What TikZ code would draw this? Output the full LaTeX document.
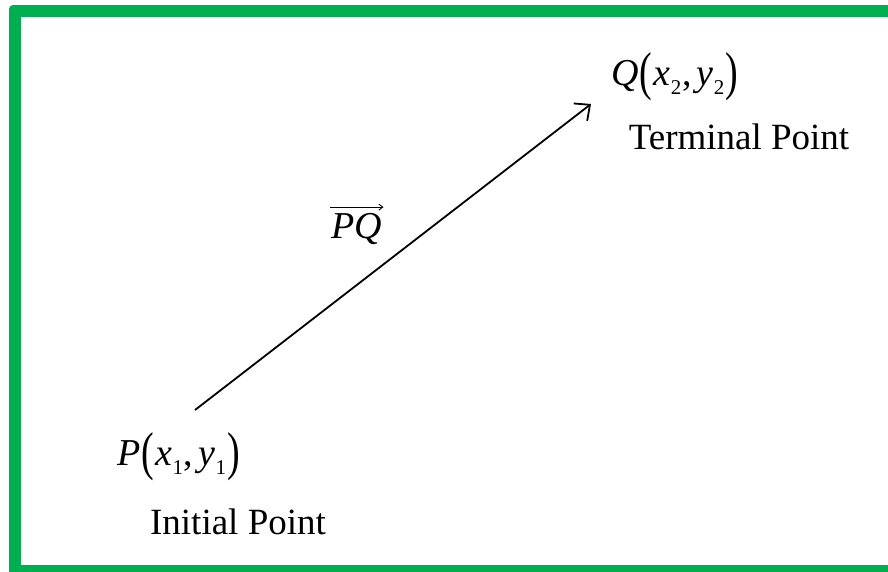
\documentclass[tikz,border=0pt]{standalone}
\usepackage{fontspec}
\setmainfont{Liberation Serif}
\usepackage{graphicx}
\usetikzlibrary{arrows.meta}
\definecolor{frameg}{RGB}{0,176,80}
\newcommand\bigpar[1]{\raisebox{-0.12em}{\scalebox{1}[1.4]{#1}}}
\newcommand\subn[1]{\raisebox{-0.25em}{\fontsize{21}{21}\selectfont #1}}
\newcommand\ptlabel[3]{\textit{#1}\kern0.02em\bigpar{(}\kern0.02em\textit{x}\kern0.02em\subn{#2}\kern0.02em,\kern0.12em\textit{y}\kern0.02em\subn{#3}\kern0.04em\bigpar{)}}
\tikzset{
  lbl/.style={inner sep=0pt, font=\fontsize{37}{40}\selectfont},
  mlbl/.style={inner sep=0pt, font=\fontsize{38}{42}\selectfont},
  vec/.style={line width=1.8pt, -{Straight Barb[length=12pt,width=22pt,line width=1.8pt]}},
  overarr/.style={line width=1pt, -{Straight Barb[length=4pt,width=6pt,line width=0.9pt]}}
}
\begin{document}
\begin{tikzpicture}[x=1pt,y=-1pt]
\useasboundingbox (0,0) rectangle (888,571);
\begin{scope}
\clip (0,0) rectangle (888,571);
\fill[frameg, rounded corners=4pt] (9,5) rectangle (920,600);
\fill[white] (21,17) rectangle (920,565);
\end{scope}
\coordinate (A) at (195,410);
\coordinate (B) at (591,104);
\draw[vec] (A) -- (B);
\node[mlbl] (Q) at (675,77) {\ptlabel{Q}{2}{2}};
\node[lbl] (T) at (739,137) {Terminal Point};
\node[mlbl] (P) at (179,457) {\ptlabel{P}{1}{1}};
\node[lbl] (I) at (238,522) {Initial Point};
\node[mlbl] (V) at (357,229) {\textit{PQ}};
\coordinate (V1) at ([xshift=-1pt,yshift=6pt]V.north west);
\coordinate (V2) at ([xshift=1pt,yshift=6pt]V.north east);
\draw[overarr] (V1) -- (V2);
\end{tikzpicture}
\end{document}
